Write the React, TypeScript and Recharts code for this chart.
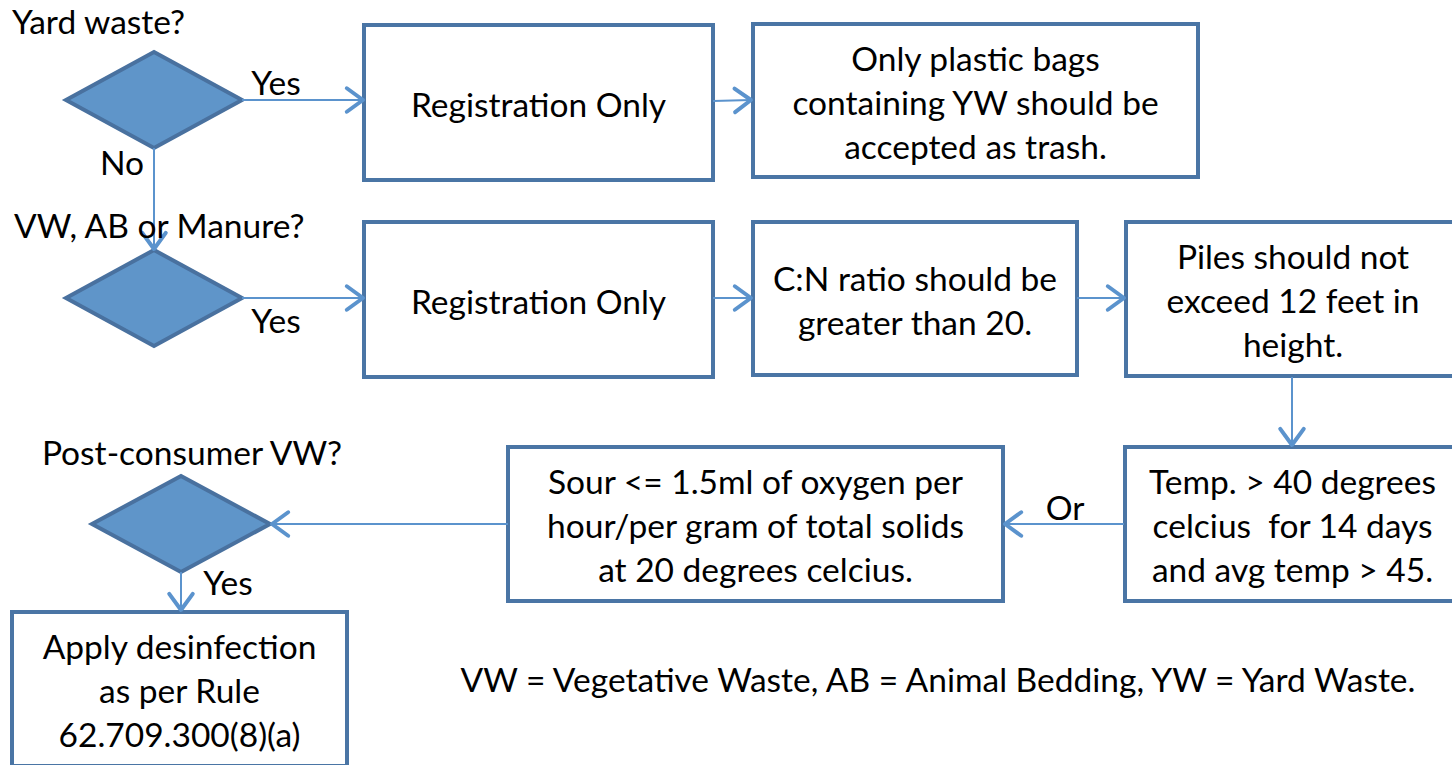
import React from "react";
import { ScatterChart, Scatter, XAxis, YAxis, ReferenceArea, ReferenceLine } from "recharts";

const W = 1452;
const H = 765;
const FONT = "Lato, Calibri, sans-serif";
const FS = 33.5;
const LINE_GAP = 44;

const BOX_STROKE = "#4a75a5";
const DIAMOND_FILL = "#5f95c9";
const DIAMOND_STROKE = "#49719f";
const ARROW = "#5b93cd";

// process boxes, in diagram coordinates (x right, y down)
const boxes = [
  { id: "reg1", x1: 364, x2: 713, y1: 25, y2: 180, lines: ["Registration Only"] },
  { id: "bags", x1: 753, x2: 1198, y1: 24, y2: 177, lines: ["Only plastic bags", "containing YW should be", "accepted as trash."] },
  { id: "reg2", x1: 364, x2: 713, y1: 222, y2: 377, lines: ["Registration Only"] },
  { id: "cn", x1: 753, x2: 1077, y1: 222, y2: 375, lines: ["C:N ratio should be", "greater than 20."] },
  { id: "piles", x1: 1126, x2: 1460, y1: 222, y2: 376, lines: ["Piles should not", "exceed 12 feet in", "height."] },
  { id: "temp", x1: 1125, x2: 1460, y1: 447, y2: 601, lines: ["Temp. > 40 degrees", "celcius  for 14 days", "and avg temp > 45."] },
  { id: "sour", x1: 508, x2: 1003, y1: 447, y2: 601, lines: ["Sour <= 1.5ml of oxygen per", "hour/per gram of total solids", "at 20 degrees celcius."] },
  { id: "apply", x1: 12, x2: 347, y1: 612, y2: 766, lines: ["Apply desinfection", "as per Rule", "62.709.300(8)(a)"] },
];

// decision diamonds (bounding boxes)
const diamonds = [
  { id: "yard", x1: 66, x2: 242, y1: 52, y2: 148 },
  { id: "vw", x1: 66, x2: 242, y1: 250, y2: 346 },
  { id: "post", x1: 92, x2: 270, y1: 476, y2: 572 },
];

// connectors: [fromX, fromY, toX, toY]
const arrows = [
  [242, 100, 363, 100],
  [713, 101, 751, 100],
  [154, 148, 154, 249],
  [242, 298, 363, 298],
  [713, 298, 751, 298],
  [1077, 298, 1124, 298],
  [1292, 377, 1292, 445],
  [1124, 524, 1005, 524],
  [508, 524, 272, 524],
  [181, 572, 181, 610],
];

// free text
const labels = [
  { x: 12, y: 21, text: "Yard waste?", anchor: "start" },
  { x: 14, y: 225, text: "VW, AB or Manure?", anchor: "start" },
  { x: 192, y: 452, text: "Post-consumer VW?", anchor: "middle" },
  { x: 276, y: 82, text: "Yes", anchor: "middle" },
  { x: 122, y: 162, text: "No", anchor: "middle" },
  { x: 276, y: 320, text: "Yes", anchor: "middle" },
  { x: 1065, y: 507, text: "Or", anchor: "middle" },
  { x: 228, y: 582, text: "Yes", anchor: "middle" },
  { x: 938, y: 679, text: "VW = Vegetative Waste, AB = Animal Bedding, YW = Yard Waste.", anchor: "middle" },
];

function BoxShape(props: any) {
  const { x, y, width, height, lines } = props;
  const cx = x + width / 2;
  const cy = y + height / 2 + 1;
  const n = lines.length;
  return (
    <g>
      <rect x={x} y={y} width={width} height={height} fill="#fff" stroke={BOX_STROKE} strokeWidth={4} />
      {lines.map((t: string, i: number) => (
        <text
          key={i}
          x={cx}
          y={cy + (i - (n - 1) / 2) * LINE_GAP}
          textAnchor="middle"
          dominantBaseline="central"
          fontFamily={FONT}
          fontSize={FS}
          fill="#000"
          style={{ whiteSpace: "pre" }}
        >
          {t}
        </text>
      ))}
    </g>
  );
}

function DiamondShape(props: any) {
  const { x, y, width, height } = props;
  const pts = [
    [x + width / 2, y],
    [x + width, y + height / 2],
    [x + width / 2, y + height],
    [x, y + height / 2],
  ]
    .map((p) => p.join(","))
    .join(" ");
  return <polygon points={pts} fill={DIAMOND_FILL} stroke={DIAMOND_STROKE} strokeWidth={4} strokeLinejoin="miter" />;
}

function ArrowShape(props: any) {
  const { x1, y1, x2, y2 } = props;
  const ang = Math.atan2(y2 - y1, x2 - x1);
  const len = 20;
  const spread = Math.PI / 5;
  const a1x = x2 - len * Math.cos(ang - spread);
  const a1y = y2 - len * Math.sin(ang - spread);
  const a2x = x2 - len * Math.cos(ang + spread);
  const a2y = y2 - len * Math.sin(ang + spread);
  return (
    <g>
      <line x1={x1} y1={y1} x2={x2} y2={y2} stroke={ARROW} strokeWidth={2} />
      <polyline
        points={`${a1x},${a1y} ${x2},${y2} ${a2x},${a2y}`}
        fill="none"
        stroke={ARROW}
        strokeWidth={4}
        strokeLinecap="round"
        strokeLinejoin="round"
      />
    </g>
  );
}

function LabelShape(props: any) {
  const { cx, cy, payload } = props;
  return (
    <text
      x={cx}
      y={cy}
      textAnchor={payload.anchor}
      dominantBaseline="central"
      fontFamily={FONT}
      fontSize={FS}
      fill="#000"
    >
      {payload.text}
    </text>
  );
}

export default function App() {
  return (
    <div style={{ position: "absolute", left: 0, top: 0, background: "#fff" }}>
      <ScatterChart width={W} height={H} margin={{ top: 0, right: 0, bottom: 0, left: 0 }}>
        <XAxis type="number" dataKey="x" domain={[0, W]} hide allowDataOverflow />
        <YAxis type="number" dataKey="y" domain={[0, H]} reversed hide allowDataOverflow />
        {arrows.map((a, i) => (
          <ReferenceLine
            key={`a${i}`}
            segment={[
              { x: a[0], y: a[1] },
              { x: a[2], y: a[3] },
            ]}
            ifOverflow="visible"
            shape={(p: any) => <ArrowShape {...p} />}
          />
        ))}
        {boxes.map((b) => (
          <ReferenceArea
            key={b.id}
            x1={b.x1}
            x2={b.x2}
            y1={b.y1}
            y2={b.y2}
            ifOverflow="visible"
            shape={(p: any) => <BoxShape {...p} lines={b.lines} />}
          />
        ))}
        {diamonds.map((d) => (
          <ReferenceArea
            key={d.id}
            x1={d.x1}
            x2={d.x2}
            y1={d.y1}
            y2={d.y2}
            ifOverflow="visible"
            shape={(p: any) => <DiamondShape {...p} />}
          />
        ))}
        <Scatter data={labels} dataKey="y" isAnimationActive={false} shape={(p: any) => <LabelShape {...p} />} />
      </ScatterChart>
    </div>
  );
}
